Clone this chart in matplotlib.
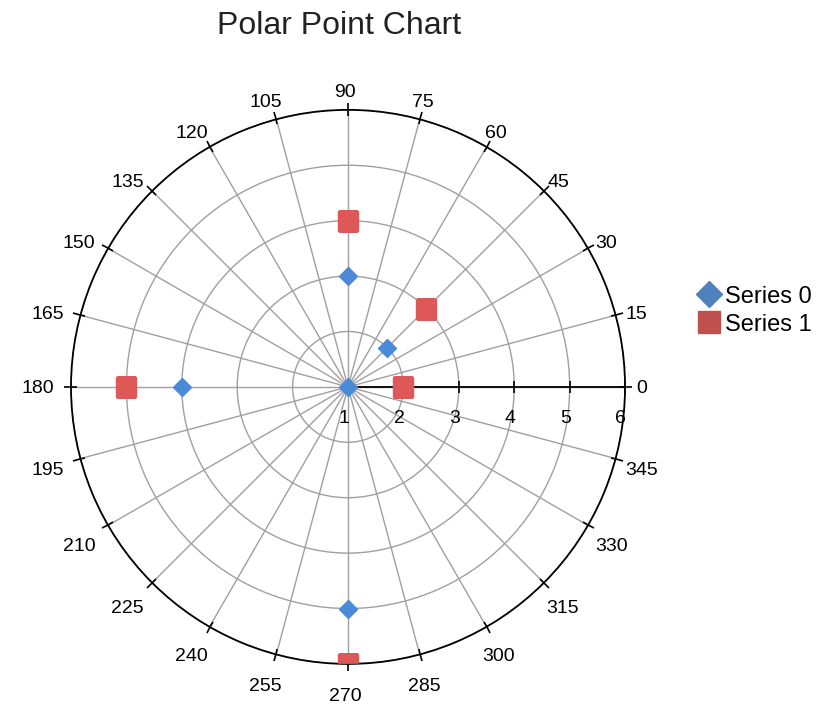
import numpy as np
import matplotlib.pyplot as plt
from matplotlib.transforms import ScaledTranslation

# data (angle in degrees, radius)
s0_angles = [0, 45, 90, 180, 270]
s0_radius = [1, 2, 3, 4, 5]
s1_angles = [0, 45, 90, 180, 270]
s1_radius = [2, 3, 4, 5, 6]

theta_ticks = list(range(0, 360, 15))
r_ticks = [1, 2, 3, 4, 5, 6]

plt.rcParams['font.family'] = ['Liberation Sans', 'DejaVu Sans']

fig = plt.figure(figsize=(8.16, 7.06), dpi=100)
ax = fig.add_axes([0.087, 0.0595, 0.679, 0.785], projection='polar')

ax.plot(np.deg2rad(s0_angles), s0_radius, ls='none', marker='D', ms=9,
        color='#4A8AD6', label='Series 0', zorder=5)
ax.plot(np.deg2rad(s1_angles), s1_radius, ls='none', marker='s', ms=14,
        color='#DE5858', label='Series 1', zorder=5)

ax.set_rlim(1, 6)
ax.set_rticks(r_ticks)
ax.set_rlabel_position(0)
ax.set_thetagrids(theta_ticks, [str(a) for a in theta_ticks])
ax.grid(color='#a0a0a0', lw=1)
ax.spines['polar'].set_color('black')
ax.spines['polar'].set_linewidth(1.3)
ax.tick_params(axis='x', labelsize=14, pad=-1.9, direction='out', length=5, width=1.2,
               top=True, bottom=False, colors='black')
# inner half of the crossing ticks on the rim
ax.set_xticks(np.deg2rad(theta_ticks), minor=True)
ax.xaxis.remove_overlapping_locs = False
ax.tick_params(axis='x', which='minor', direction='in', length=4, width=1.2,
               top=True, bottom=False, colors='black')
ax.tick_params(axis='y', labelsize=14)

# black radial axis along 0 degrees
ax.axvline(0, color='black', lw=1.3, zorder=3)
ax.plot(np.zeros(len(r_ticks) - 1), r_ticks[1:], ls='none', marker='|', ms=8,
        mew=1.2, color='black', zorder=3)

fig.canvas.draw()
renderer = fig.canvas.get_renderer()
for lab in ax.get_yticklabels():
    lab.set_transform(lab.get_transform() + ScaledTranslation(-7 / 72, -29 / 72, fig.dpi_scale_trans))

# push angle labels out so their nearest edge sits by the circle
for lab, a in zip(ax.get_xticklabels(), theta_ticks):
    bb = lab.get_window_extent(renderer)
    c, s = np.cos(np.deg2rad(a)), np.sin(np.deg2rad(a))
    fy = s ** 3 if s > 0 else np.clip(2 * s, -1, 0)
    dx = bb.width / 2 * c - 3
    dy = bb.height / 2 * fy - 5 * abs(s) - 2 * (1 - abs(s))
    if s < 0:
        dy -= 5 * abs(s)
    lab.set_transform(lab.get_transform() + ScaledTranslation(dx / 100, dy / 100, fig.dpi_scale_trans))

fig.text(0.415, 0.963, 'Polar Point Chart', ha='center', va='center', fontsize=23, color='#222222')

leg = ax.legend(loc='center left', bbox_to_anchor=(0.836, 0.56), bbox_transform=fig.transFigure,
                frameon=False, fontsize=17, handletextpad=0.0, borderpad=0, labelspacing=0.25,
                handlelength=1.3)
leg.legend_handles[0].set_color('#4F81BD')
leg.legend_handles[0].set_markersize(13)
leg.legend_handles[1].set_color('#C0504D')
leg.legend_handles[1].set_markersize(16)

fig.savefig('out.png', dpi=100)
